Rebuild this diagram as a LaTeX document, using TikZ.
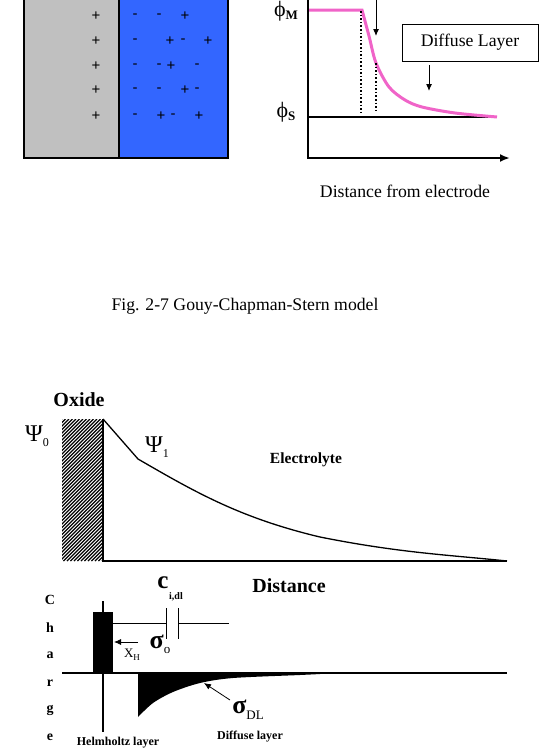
\documentclass[tikz,border=0pt]{standalone}
\usepackage{fontspec}
\setmainfont{Liberation Serif}
\setsansfont{Liberation Sans}
\usetikzlibrary{arrows.meta}

\definecolor{metalgray}{RGB}{192,192,192}
\definecolor{solblue}{RGB}{51,102,255}
\definecolor{potpink}{RGB}{240,100,200}

\tikzset{
  sign/.style={font=\sffamily\fontsize{15}{15}\selectfont, inner sep=0pt},
  plain/.style={font=\fontsize{17.7}{20}\selectfont, inner sep=0pt},
  boldbig/.style={font=\bfseries\fontsize{20}{22}\selectfont, inner sep=0pt},
  boldmid/.style={font=\bfseries\fontsize{15.5}{17}\selectfont, inner sep=0pt},
  boldsmall/.style={font=\bfseries\fontsize{12}{13}\selectfont, inner sep=0pt},
  greek/.style={font=\fontsize{24}{24}\selectfont, inner sep=0pt},
}

\begin{document}
\begin{tikzpicture}[x=1pt, y=-1pt, >={Latex[length=7pt,width=6pt]}]
  \useasboundingbox (0,0) rectangle (544,750);
  \clip (0,0) rectangle (544,750);

  % Metal and solution
  \fill[metalgray] (24,-5) rectangle (119,158);
  \fill[solblue] (119,-5) rectangle (228,158);
  \draw[line width=2pt] (24,-5) -- (24,158) -- (228,158) -- (228,-5);
  \draw[line width=2pt] (119,-5) -- (119,158);

  % Charges
  \foreach \y [count=\i] in {16,41,66,90,116}
    \node[sign] (pos\i) at (96,\y) {+};
  \foreach \x/\y/\s [count=\i] in {135/16/-, 159/16/-, 185/16/+,
      135/41/-, 170/41/+, 183/41/-, 208/41/+,
      135/66/-, 159/66/-, 171/66/+, 197/66/-,
      135/90/-, 159/90/-, 185/90/+, 197/90/-,
      135/116/-, 161/116/+, 173/116/-, 199/116/+}
    \node[sign] (ion\i) at (\x,\y) {\s};

  % Axes
  \coordinate (ytop) at (308,-3);
  \coordinate (org) at (308,158);
  \coordinate (xend) at (510,158);
  \draw[line width=2pt, -{Latex[length=10pt,width=8pt]}] (ytop) -- (org) -- (xend);
  \coordinate (sleft) at (308,117);
  \coordinate (sright) at (497,117);
  \draw[line width=1.3pt] (sleft) -- (sright);

  % Potential profile
  \draw[potpink, line width=3pt] (309,10) -- plot[smooth] coordinates
    {(362,10) (369,36) (376,63) (389,87) (405,100) (422,107) (455,113) (497,117)};
  \draw[dotted, line width=1.6pt] (361,11) -- (361,113);
  \draw[dotted, line width=1.6pt] (376,63) -- (376,113);

  \node[font=\fontsize{22}{22}\selectfont, inner sep=0pt] (phim) at (286,11)
    {ϕ\raisebox{-3pt}{\bfseries\fontsize{13}{13}\selectfont M}};
  \node[font=\fontsize{22}{22}\selectfont, inner sep=0pt] (phis) at (286,112)
    {ϕ\raisebox{-3pt}{\bfseries\fontsize{13}{13}\selectfont S}};

  % Layer arrows
  \coordinate (hlstart) at (376,-3);
  \coordinate (hltip) at (376,36);
  \draw[line width=1pt, ->] (hlstart) -- (hltip);
  \node[plain, draw, line width=0.8pt, minimum width=136pt, minimum height=37pt]
    (dlbox) at (470,42.5) {Diffuse Layer};
  \coordinate (dltip) at (429,91);
  \draw[line width=1pt, ->] ([yshift=-4pt]dlbox.south -| dltip) -- (dltip);

  \node[plain] (xlabel) at (405,191) {Distance from electrode};

  % Caption
  \node[plain] (caption) at (245,306) {Fig. 2-7 Gouy-Chapman-Stern model};

  % Oxide / electrolyte potential
  \node[boldbig] (oxide) at (79,400) {Oxide};
  \begin{scope}
    \clip (62,419) rectangle (103,561);
    \foreach \k in {0,3.5,...,200}
      \draw[line width=1.1pt] (\k-80,561) -- ++(142,-142);
  \end{scope}
  \coordinate (surf) at (103,419);
  \coordinate (knee) at (138,459);
  \coordinate (surfbot) at (103,561);
  \coordinate (bulk) at (507,561);
  \draw[line width=1.5pt] (surf) -- (surfbot) -- (bulk);
  \draw[line width=1.3pt] (surf) -- (knee)
    .. controls (195,492) and (240,518) .. (320,537)
    .. controls (400,553) and (450,555) .. (bulk);

  \node[greek] (psi0) at (37,436) {Ψ\raisebox{-5pt}{\fontsize{12}{12}\selectfont 0}};
  \node[greek] (psi1) at (157,447) {Ψ\raisebox{-5pt}{\fontsize{12}{12}\selectfont 1}};
  \node[boldmid] (electrolyte) at (306,460) {Electrolyte};

  % Charge distribution
  \node[boldbig] (distance) at (289,586) {Distance};
  \foreach \c/\y [count=\i] in {C/600, h/628, a/655, r/683, g/710, e/737}
    \node[font=\bfseries\fontsize{14}{14}\selectfont, inner sep=0pt] (ch\i) at (50,\y) {\c};

  \fill (93,612) rectangle (113,673);
  \coordinate (vtop) at (103,601);
  \coordinate (vbot) at (103,732);
  \draw[line width=1.5pt] (vtop) -- (vbot);
  \coordinate (zleft) at (62,673);
  \coordinate (zright) at (507,673);
  \draw[line width=2pt] (zleft) -- (zright);
  \fill (138,673) -- plot[smooth] coordinates
    {(138,717) (153,703) (173,692) (200,683) (233,678) (300,675) (320,674)} -- (320,673) -- cycle;

  % Capacitor
  \coordinate (capa) at (113,623);
  \coordinate (capb) at (229,623);
  \draw[line width=1pt] (capa) -- (166,623) (166,608) -- (166,639);
  \draw[line width=1pt] (178,608) -- (178,639) (178,623) -- (capb);
  \node[font=\bfseries\fontsize{25}{25}\selectfont, inner sep=0pt] (cdl) at (163,583) {c};
  \node[boldsmall, font=\bfseries\fontsize{10}{10}\selectfont] (cdlsub) at (176,597) {i,dl};

  % Labels
  \coordinate (xhtail) at (138,642);
  \coordinate (xhtip) at (114,642);
  \draw[line width=0.8pt, ->] (xhtail) -- (xhtip);
  \node[font=\fontsize{13}{13}\selectfont, inner sep=0pt] (xh) at (132,655)
    {X\raisebox{-3pt}{\fontsize{9}{9}\selectfont H}};
  \node[greek, font=\bfseries\fontsize{26}{26}\selectfont] (sigo) at (160,644)
    {σ\raisebox{-5pt}{\mdseries\fontsize{13}{13}\selectfont o}};
  \coordinate (dltail) at (230,700);
  \coordinate (dlhead) at (204,683);
  \draw[line width=0.8pt, ->] (dltail) -- (dlhead);
  \node[greek, font=\bfseries\fontsize{26}{26}\selectfont] (sigdl) at (248,710)
    {σ\raisebox{-6pt}{\mdseries\fontsize{13}{13}\selectfont DL}};
  \node[boldsmall] (hlabel) at (118,743) {Helmholtz layer};
  \node[boldsmall] (dlabel) at (250,737) {Diffuse layer};
\end{tikzpicture}
\end{document}
